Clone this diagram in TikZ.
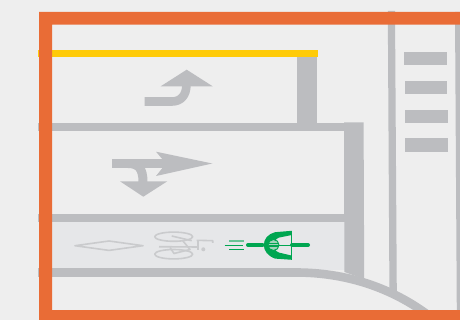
\documentclass[tikz,border=0pt]{standalone}
\definecolor{bgcol}{HTML}{EEEEEE}
\definecolor{lanecol}{HTML}{E6E7E9}
\definecolor{markcol}{HTML}{BCBDC0}
\definecolor{ghostcol}{HTML}{CACBCD}
\definecolor{kerbcol}{HTML}{E96C36}
\definecolor{yellowcol}{HTML}{FFCB08}
\definecolor{cyclecol}{HTML}{00A651}
\begin{document}
\begin{tikzpicture}[x=1pt, y=-1pt, line join=round,
    marking/.style={fill=markcol, draw=none},
    ghostline/.style={draw=ghostcol, line width=1.6pt},
    cycleline/.style={draw=cyclecol, line width=4pt, line cap=round}]
  % Page, all measures in pixels of the reference
  \fill[bgcol] (0,0) rectangle (460,320);
  \useasboundingbox (0,0) rectangle (460,320);

  % Shaded cycle lane
  \fill[lanecol] (52,222) rectangle (345,270);

  % Curved edge of the junction
  \draw[markcol, line width=8.6pt] (38,272.5) -- (296,272.5)
    .. controls (345,272.5) and (392,287) .. (432,318);

  % Lane lines and islands
  \fill[marking] (38,122.7) rectangle (345,130.7);
  \fill[marking] (38,213.7) rectangle (345,222.5);
  \fill[marking] (297.3,57) rectangle (317,130.7);
  \fill[marking] (344,122.3) -- (363.6,122.3) -- (364.2,279) -- (344.4,272) -- cycle;
  \fill[marking] (387.8,11) -- (395,11) -- (396.8,292) -- (389.4,288) -- cycle;
  \fill[marking] (455,12) -- (460,12) -- (460,312) -- (456.8,312) -- cycle;

  % Zebra bars
  \fill[marking] (404,52) rectangle (447,65.2);
  \fill[marking] (404.7,81) rectangle (447.3,94);
  \fill[marking] (405,109.7) rectangle (447.7,122.7);
  \fill[marking] (405,138.3) rectangle (448,151.7);

  % Stop line
  \fill[yellowcol] (38,50) rectangle (318,57);

  % Arrow: straight on, bending up
  \begin{scope}
    \draw[markcol, line width=8.6pt] (144.7,101.5) -- (172,101.5)
      .. controls (181,101.5) and (186.4,95) .. (186.4,85);
    \fill[marking] (186.7,69.7) -- (212.7,86.3) -- (160.7,86.3) -- cycle;
  \end{scope}

  % Arrow: straight ahead with a branch down
  \begin{scope}
    \draw[markcol, line width=8.4pt] (112,163.5) -- (170,163.5);
    \fill[marking] (212.3,163.5) -- (156,151.7) -- (166,163.5) -- (156,176) -- cycle;
    \draw[markcol, line width=9pt] (128,163.5)
      .. controls (138,163.5) and (143,168) .. (143,182);
    \fill[marking] (120,181.3) -- (167.3,181.3) -- (143.3,196.7) -- cycle;
  \end{scope}

  % Faded diamond
  \draw[ghostline] (75,245.7) -- (109,241) -- (143,245.7) -- (109,250.4) -- cycle;

  % Faded bicycle
  \begin{scope}
    \draw[ghostline] (173.7,236.7) ellipse (19 and 4.6);
    \draw[ghostline] (173.7,254.2) ellipse (19 and 4.7);
    \draw[ghostline] (171.7,236) -- (191.7,240.7);           % fork
    \draw[ghostline] (159,246.7) -- (198,247);               % top tube
    \draw[ghostline] (170,247.5) -- (174,253.5) -- (190,249.5) -- (183,241);
    \draw[ghostline] (198,240.5) -- (198,250);               % saddle post
    \draw[ghostline] (196.7,240.3) -- (212.7,240.7) -- (212.7,243);
    \fill[ghostcol] (203.3,249.3) circle (2);
  \end{scope}

  % Speed streaks behind the cyclist
  \draw[cyclecol!55!lanecol, line width=1.8pt] (229,240.7) -- (244,240.7);
  \draw[cyclecol, line width=0.7pt] (224.7,245) -- (243.3,245);
  \draw[cyclecol, line width=0.9pt] (229,249.3) -- (244,249.3);

  % Cyclist seen from above
  \draw[cycleline] (248,245) -- (262.5,245);
  \draw[cycleline] (292,245) -- (308,245);
  \draw[cyclecol, line width=0.8pt] (291.6,231) -- (291.6,259);
  \draw[cyclecol, line width=0.8pt] (279,245) -- (292,245);
  \fill[cyclecol] (291.8,230.8) -- (275,232.2)
    .. controls (268,234) and (263.8,239) .. (263.8,245)
    .. controls (263.8,251) and (268,256) .. (275,258.6)
    -- (291.8,259.8) -- (291.8,255.6) -- (279,252.6)
    .. controls (272,250) and (272,240) .. (279,237.6)
    -- (291.8,235) -- cycle;
  \draw[cyclecol, line width=1pt, fill=cyclecol!30!lanecol] (273.5,245) circle (5.5);
  % helmet stripes
  \draw[cyclecol, line width=0.7pt] (269,243.2) -- (278,243.2) (268.5,245) -- (278.5,245) (269,246.8) -- (278,246.8);

  % Kerb on top of everything
  \fill[kerbcol] (39,320) -- (39,12) -- (460,12) -- (460,24.7) -- (52,24.7) -- (52,310)
    -- (460,310) -- (460,320) -- cycle;
\end{tikzpicture}
\end{document}
